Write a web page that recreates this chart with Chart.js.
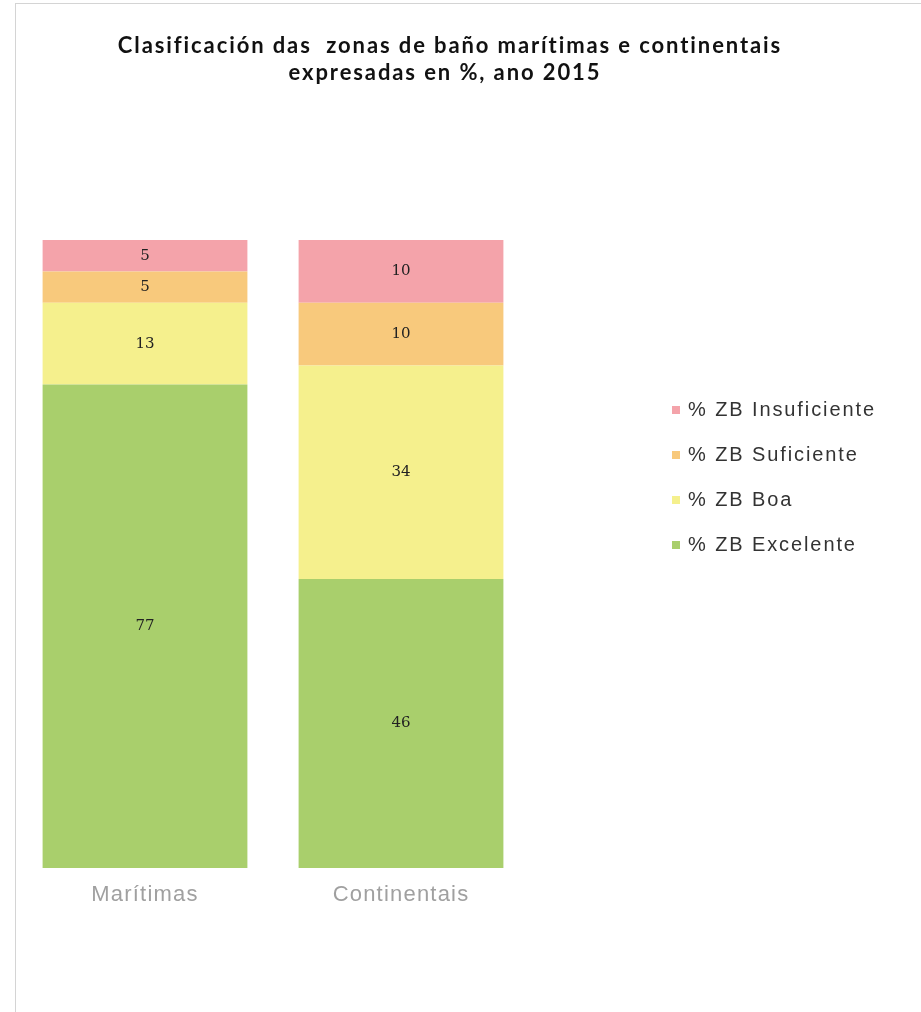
<!DOCTYPE html>
<html lang="gl">
<head>
    <meta charset="UTF-8">
    <title>Clasificación das zonas de baño</title>
    <style>
        body {
            margin: 0;
            padding: 0;
            background: #fff;
        }
        .frame {
            position: absolute;
            left: 15px;
            top: 3px;
            width: 906px;
            height: 1009px;
            border-left: 1px solid #d4d4d4;
            border-top: 1px solid #d4d4d4;
        }
        canvas {
            position: absolute;
            left: 0;
            top: 0;
        }
    </style>
    <script src="https://cdn.jsdelivr.net/npm/chart.js"></script>
</head>
<body>
    <div class="frame"></div>
    <canvas id="zonasChart" width="921" height="1012"></canvas>
    <script>
        // data
        const categories = ['Marítimas', 'Continentais'];
        const excelente = [77, 46];
        const boa = [13, 34];
        const suficiente = [5, 10];
        const insuficiente = [5, 10];
        const titleLines = [
            'Clasificación das  zonas de baño marítimas e continentais',
            'expresadas en %, ano 2015'
        ];

        const colors = {
            insuficiente: '#f4a3aa',
            suficiente: '#f8c97c',
            boa: '#f5f08d',
            excelente: '#a9cf6c'
        };

        // the old sheet text is a bit stretched, so the axis labels get some spacing
        const spacing = {
            id: 'spacing',
            beforeDraw(chart) {
                if ('letterSpacing' in chart.ctx) chart.ctx.letterSpacing = '1.2px';
            }
        };

        // values written in the middle of every segment
        const segmentLabels = {
            id: 'segmentLabels',
            afterDatasetsDraw(chart) {
                const ctx = chart.ctx;
                ctx.save();
                if ('letterSpacing' in ctx) ctx.letterSpacing = '0px';
                ctx.font = '15px "DejaVu Serif", serif';
                ctx.fillStyle = '#222';
                ctx.textAlign = 'center';
                ctx.textBaseline = 'middle';
                chart.data.datasets.forEach((ds, i) => {
                    chart.getDatasetMeta(i).data.forEach((bar, j) => {
                        const y = (bar.y + bar.base) / 2;
                        ctx.fillText(ds.data[j], bar.x, y);
                    });
                });
                ctx.restore();
            }
        };

        // title and legend placed like the original sheet chart
        const decorations = {
            id: 'decorations',
            afterDraw(chart) {
                const ctx = chart.ctx;
                ctx.save();
                ctx.fillStyle = '#111';
                ctx.font = 'bold 22px Lato, sans-serif';
                if ('letterSpacing' in ctx) ctx.letterSpacing = '1.9px';
                ctx.textAlign = 'center';
                ctx.textBaseline = 'middle';
                ctx.fillText(titleLines[0], 450, 46);
                ctx.fillText(titleLines[1], 445, 73);

                // legend, top entry is the top of the stack
                ctx.textAlign = 'left';
                ctx.font = '20px "Liberation Sans", Arial, sans-serif';
                if ('letterSpacing' in ctx) ctx.letterSpacing = '1.9px';
                const sets = chart.data.datasets.slice().reverse();
                sets.forEach((ds, i) => {
                    const y = 410 + i * 45;
                    ctx.fillStyle = ds.backgroundColor;
                    ctx.fillRect(672, y - 4, 8, 8);
                    ctx.fillStyle = '#333';
                    ctx.fillText(ds.label, 688, y);
                });
                ctx.restore();
            }
        };

        new Chart(document.getElementById('zonasChart'), {
            type: 'bar',
            data: {
                labels: categories,
                datasets: [
                    { label: '% ZB Excelente', data: excelente, backgroundColor: colors.excelente },
                    { label: '% ZB Boa', data: boa, backgroundColor: colors.boa },
                    { label: '% ZB Suficiente', data: suficiente, backgroundColor: colors.suficiente },
                    { label: '% ZB Insuficiente', data: insuficiente, backgroundColor: colors.insuficiente }
                ]
            },
            options: {
                responsive: false,
                animation: false,
                categoryPercentage: 0.8,
                barPercentage: 1,
                layout: {
                    padding: { left: 17, right: 392, top: 240, bottom: 104 }
                },
                scales: {
                    x: {
                        stacked: true,
                        grid: { display: false, drawTicks: false },
                        border: { display: false },
                        ticks: {
                            color: '#a0a0a0',
                            padding: 14,
                            font: { family: '"Liberation Sans", Arial, sans-serif', size: 22 }
                        },
                        afterFit: s => { s.height = 40; }
                    },
                    y: {
                        stacked: true,
                        display: false,
                        min: 0,
                        max: 100
                    }
                },
                plugins: {
                    legend: { display: false },
                    title: { display: false },
                    tooltip: { enabled: false }
                }
            },
            plugins: [spacing, segmentLabels, decorations]
        });
    </script>
</body>
</html>
